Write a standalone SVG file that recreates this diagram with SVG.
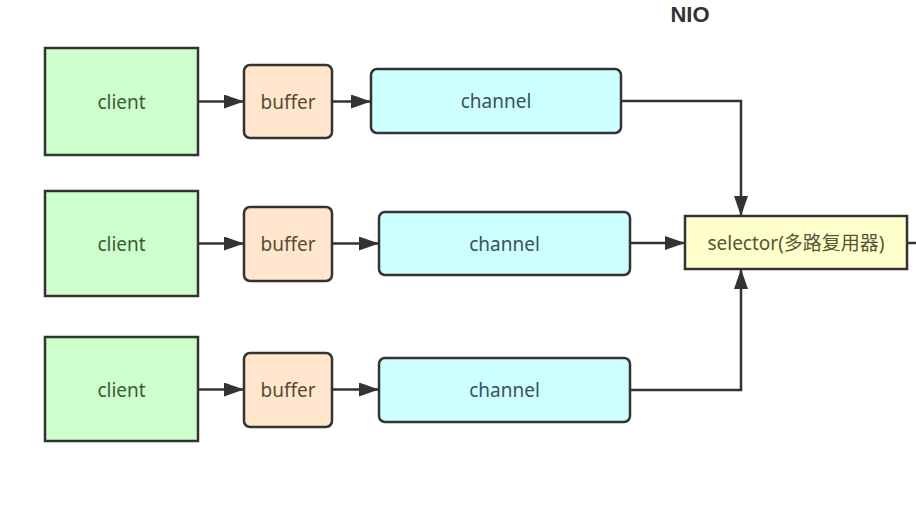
<svg xmlns="http://www.w3.org/2000/svg" width="916" height="516" viewBox="0 0 916 516">
<style>
.box{stroke:#333;stroke-width:2.5}
.client{fill:#ccffcc}
.buffer{fill:#ffe6cc}
.channel{fill:#ccffff}
.selector{fill:#ffffcc}
text{font-family:"Noto Sans","Noto Sans CJK SC",sans-serif;font-size:19px;text-anchor:middle;dominant-baseline:central}
.tc{fill:#3d5a3d}
.tb{fill:#5a4a3a}
.th{fill:#3a5257}
.ts{fill:#555533}
.conn{fill:none;stroke:#333;stroke-width:2.5}
</style>
<defs>
<marker id="ah" markerWidth="20" markerHeight="14" refX="19" refY="7" orient="auto" markerUnits="userSpaceOnUse" viewBox="0 0 20 14">
<path d="M0,0 L20,7 L0,14 Z" fill="#333"/>
</marker>
</defs>
<rect width="916" height="516" fill="#fff"/>
<text x="690" y="14" style="font-family:'Liberation Sans',sans-serif;font-weight:bold;font-size:22px;fill:#333">NIO</text>

<g id="client1"><rect class="box client" x="45" y="48" width="153" height="107"/><text class="tc" x="121.5" y="101.5">client</text></g>
<g id="client2"><rect class="box client" x="45" y="191" width="153" height="105"/><text class="tc" x="121.5" y="243.5">client</text></g>
<g id="client3"><rect class="box client" x="45" y="337" width="153" height="104"/><text class="tc" x="121.5" y="389.5">client</text></g>

<g id="buffer1"><rect class="box buffer" x="244" y="65" width="88" height="73" rx="6"/><text class="tb" x="288" y="101.5">buffer</text></g>
<g id="buffer2"><rect class="box buffer" x="244" y="207" width="88" height="74" rx="6"/><text class="tb" x="288" y="244">buffer</text></g>
<g id="buffer3"><rect class="box buffer" x="244" y="353" width="88" height="74" rx="6"/><text class="tb" x="288" y="390">buffer</text></g>

<g id="channel1"><rect class="box channel" x="371" y="69" width="250" height="64" rx="6"/><text class="th" x="496" y="101">channel</text></g>
<g id="channel2"><rect class="box channel" x="379" y="212" width="251" height="63" rx="6"/><text class="th" x="504.5" y="243.5">channel</text></g>
<g id="channel3"><rect class="box channel" x="379" y="358" width="251" height="64" rx="6"/><text class="th" x="504.5" y="390">channel</text></g>

<g id="selector"><rect class="box selector" x="685" y="216" width="222" height="53"/><text class="ts" x="796" y="242.5">selector(多路复用器)</text></g>

<g id="connectors">
<line class="conn" x1="198" y1="101.5" x2="243" y2="101.5" marker-end="url(#ah)"/>
<line class="conn" x1="198" y1="243.5" x2="243" y2="243.5" marker-end="url(#ah)"/>
<line class="conn" x1="198" y1="389.5" x2="243" y2="389.5" marker-end="url(#ah)"/>
<line class="conn" x1="332" y1="101.5" x2="370" y2="101.5" marker-end="url(#ah)"/>
<line class="conn" x1="332" y1="243.5" x2="378" y2="243.5" marker-end="url(#ah)"/>
<line class="conn" x1="332" y1="389.5" x2="378" y2="389.5" marker-end="url(#ah)"/>
<polyline class="conn" points="621,101 741,101 741,215" marker-end="url(#ah)"/>
<line class="conn" x1="630" y1="243" x2="684" y2="243" marker-end="url(#ah)"/>
<polyline class="conn" points="630,390 741,390 741,270" marker-end="url(#ah)"/>
<line class="conn" x1="907" y1="243" x2="916" y2="243"/>
</g>
</svg>
